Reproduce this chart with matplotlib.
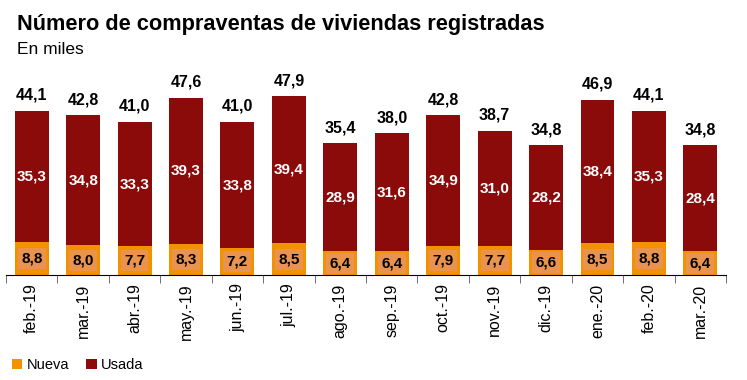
import matplotlib
matplotlib.use("Agg")
import matplotlib.pyplot as plt
import numpy as np

months = ["feb.-19", "mar.-19", "abr.-19", "may.-19", "jun.-19", "jul.-19", "ago.-19",
          "sep.-19", "oct.-19", "nov.-19", "dic.-19", "ene.-20", "feb.-20", "mar.-20"]
nueva = [8.8, 8.0, 7.7, 8.3, 7.2, 8.5, 6.4, 6.4, 7.9, 7.7, 6.6, 8.5, 8.8, 6.4]
usada = [35.3, 34.8, 33.3, 39.3, 33.8, 39.4, 28.9, 31.6, 34.9, 31.0, 28.2, 38.4, 35.3, 28.4]
total = [44.1, 42.8, 41.0, 47.6, 41.0, 47.9, 35.4, 38.0, 42.8, 38.7, 34.8, 46.9, 44.1, 34.8]

plt.rcParams["font.family"] = ["Liberation Sans", "DejaVu Sans"]

c_nueva = "#F39200"
c_nueva_box = "#E9934F"
c_usada = "#8B0A0A"


def fmt(v):
    return f"{v:.1f}".replace(".", ",")


fig = plt.figure(figsize=(7.47, 3.8), dpi=100)
ax = fig.add_axes([0.008, 0.276, 0.964, 0.54])

x = np.arange(len(months))
w = 0.66
ax.bar(x, nueva, w, color=c_nueva, label="Nueva")
ax.bar(x, usada, w, bottom=nueva, color=c_usada, label="Usada")

for i in range(len(months)):
    ax.text(x[i], nueva[i] / 2, fmt(nueva[i]), ha="center", va="center",
            fontsize=11, fontweight="bold", color="black",
            bbox=dict(boxstyle="square,pad=0.22", fc=c_nueva_box, ec="none"))
    ax.text(x[i], nueva[i] + usada[i] / 2, fmt(usada[i]), ha="center", va="center",
            fontsize=11, fontweight="bold", color="white")
    ax.text(x[i], nueva[i] + usada[i] + 2.2, fmt(total[i]), ha="center", va="bottom",
            fontsize=11.5, fontweight="bold", color="black")

ax.set_xlim(-0.5, len(months) - 0.5)
ax.set_ylim(0, 55)
ax.set_yticks([])
for s in ["top", "right", "left"]:
    ax.spines[s].set_visible(False)
ax.spines["bottom"].set_color("black")

ax.set_xticks(x)
ax.set_xticklabels(months, rotation=90, fontsize=11.5)
ax.tick_params(axis="x", which="major", length=0, pad=6)
ax.set_xticks(np.arange(-0.5, len(months)), minor=True)
ax.tick_params(axis="x", which="minor", length=6, color="#555555")

fig.text(0.023, 0.935, "Número de compraventas de viviendas registradas",
         fontsize=15.7, fontweight="bold", va="center")
fig.text(0.023, 0.87, "En miles", fontsize=12.5, va="center")

ax.legend(loc="lower left", bbox_to_anchor=(0.0, -0.5), ncol=2, frameon=False,
          fontsize=10.5, handlelength=0.7, handleheight=0.7, handletextpad=0.3,
          columnspacing=1.2, borderaxespad=0)

fig.savefig("out.png", dpi=100)
